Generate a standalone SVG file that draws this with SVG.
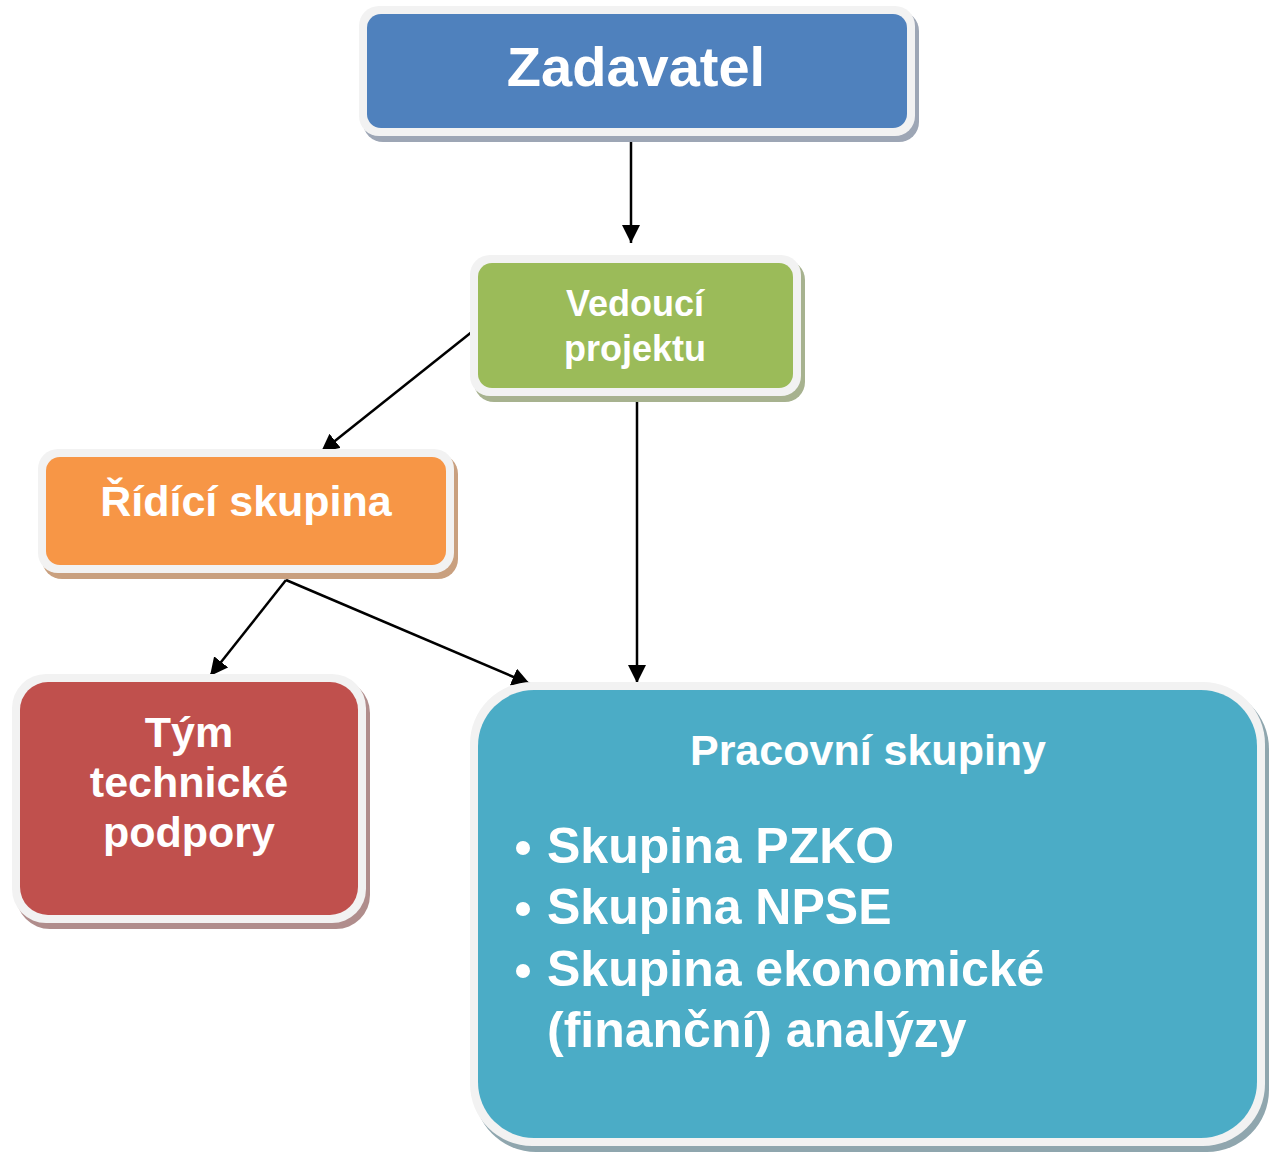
<svg xmlns="http://www.w3.org/2000/svg" width="1272" height="1152" viewBox="0 0 1272 1152">
<defs>
<style>
.frame{fill:#f2f2f2;}
.t{font-family:"Liberation Sans",Arial,sans-serif;font-weight:bold;fill:#ffffff;text-anchor:middle;}
.tl{font-family:"Liberation Sans",Arial,sans-serif;font-weight:bold;fill:#ffffff;}
.c{stroke:#000;stroke-width:2.5;fill:none;marker-end:url(#ah);}
</style>
<marker id="ah" viewBox="0 0 10 10" refX="10" refY="5" markerWidth="7.2" markerHeight="7.4" orient="auto" markerUnits="strokeWidth">
<path d="M0,0 L10,5 L0,10 z" fill="#000"/>
</marker>
</defs>
<rect width="1272" height="1152" fill="#ffffff"/>
<g id="connectors">
<line class="c" x1="631" y1="137" x2="631" y2="243"/>
<line class="c" x1="473" y1="331" x2="321" y2="452"/>
<line class="c" x1="637" y1="398" x2="637" y2="683"/>
<line class="c" x1="286" y1="580" x2="210" y2="676"/>
<line class="c" x1="286" y1="580" x2="530" y2="684"/>
</g>
<g id="zadavatel">
<rect x="363" y="11" width="556" height="131" rx="20" fill="#9da6b5"/>
<rect class="frame" x="359" y="6" width="556" height="130" rx="20"/>
<rect x="367" y="14" width="540" height="114" rx="14" fill="#4f81bd"/>
<text class="t" x="636" y="86" font-size="56">Zadavatel</text>
</g>
<g id="vedouci">
<rect x="474" y="260" width="331" height="142" rx="20" fill="#a7b28f"/>
<rect class="frame" x="470" y="255" width="331" height="141" rx="20"/>
<rect x="478" y="263" width="315" height="125" rx="14" fill="#9bbb59"/>
<text class="t" x="635" y="316" font-size="36">Vedoucí</text>
<text class="t" x="635" y="361" font-size="36">projektu</text>
</g>
<g id="ridici">
<rect x="42" y="454" width="416" height="125" rx="20" fill="#c9a07f"/>
<rect class="frame" x="38" y="449" width="416" height="124" rx="20"/>
<rect x="46" y="457" width="400" height="108" rx="14" fill="#f79646"/>
<text class="t" x="246" y="516" font-size="43">Řídící skupina</text>
</g>
<g id="tym">
<rect x="16" y="679" width="354" height="250" rx="34" fill="#b08d8c"/>
<rect class="frame" x="12" y="674" width="354" height="249" rx="34"/>
<rect x="20" y="682" width="338" height="233" rx="28" fill="#c0504d"/>
<text class="t" x="189" y="747" font-size="43">Tým</text>
<text class="t" x="189" y="797" font-size="43">technické</text>
<text class="t" x="189" y="847" font-size="43">podpory</text>
</g>
<g id="pracovni">
<rect x="474" y="687" width="795" height="465" rx="62" fill="#8fa6ae"/>
<rect class="frame" x="470" y="682" width="795" height="464" rx="62"/>
<rect x="478" y="690" width="779" height="448" rx="56" fill="#4bacc6"/>
<text class="t" x="868" y="765" font-size="43">Pracovní skupiny</text>
<circle cx="523" cy="848" r="7" fill="#fff"/>
<circle cx="523" cy="909" r="7" fill="#fff"/>
<circle cx="523" cy="971" r="7" fill="#fff"/>
<text class="tl" x="547" y="863" font-size="50">Skupina PZKO</text>
<text class="tl" x="547" y="924" font-size="50">Skupina NPSE</text>
<text class="tl" x="547" y="986" font-size="50">Skupina ekonomické</text>
<text class="tl" x="547" y="1047" font-size="50">(finanční) analýzy</text>
</g>
</svg>
